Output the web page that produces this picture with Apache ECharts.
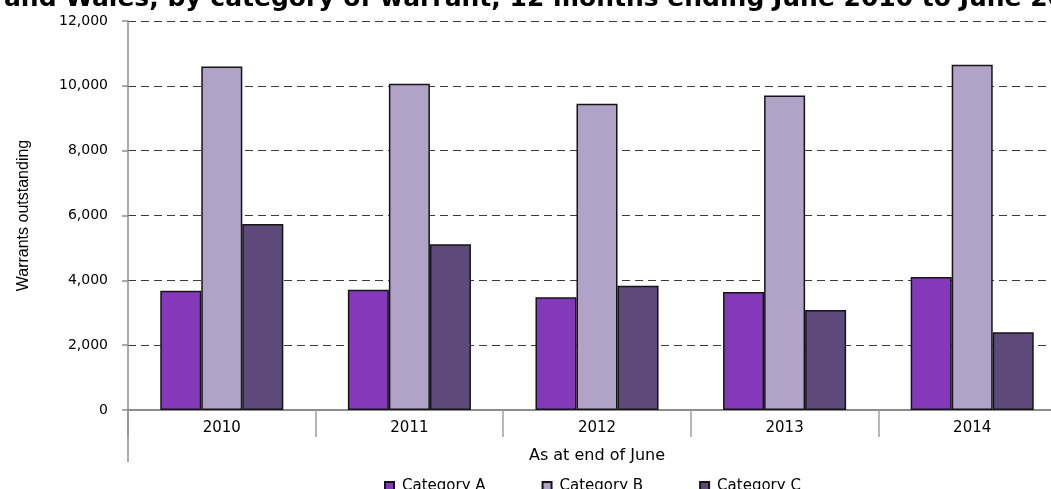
<!DOCTYPE html>
<html>
<head>
<meta charset="utf-8">
<script src="https://cdn.jsdelivr.net/npm/echarts@6/dist/echarts.min.js"></script>
<style>html,body{margin:0;padding:0;background:#fff;}#c{width:1051px;height:489px;}</style>
</head>
<body>
<div id="c"></div>
<script>
var categories = ['2010', '2011', '2012', '2013', '2014'];
var categoryA = [3680, 3710, 3475, 3640, 4100];
var categoryB = [10600, 10065, 9450, 9705, 10650];
var categoryC = [5740, 5110, 3835, 3085, 2395];
var seriesNames = ['Category A', 'Category B', 'Category C'];
var yTicks = { min: 0, max: 12000, interval: 2000 };

var chart = echarts.init(document.getElementById('c'), null, { renderer: 'canvas' });
var colors = ['#8438BA', '#B1A2C8', '#5E4A7A'];
function bar(name, data, color) {
  return {
    name: name, type: 'bar', data: data, xAxisIndex: 0,
    barGap: '0%', barCategoryGap: '34.4%',
    itemStyle: { color: color, borderColor: '#151515', borderWidth: 1.5 },
    emphasis: { disabled: true }
  };
}
chart.setOption({
  animation: false,
  color: colors,
  title: {
    text: 'and Wales, by category of warrant, 12 months ending June 2010 to June 2014',
    left: -1, top: -18,
    textStyle: { fontFamily: 'DejaVu Sans', fontWeight: 'bold', fontSize: 25, color: '#000' }
  },
  legend: {
    data: seriesNames, left: 379, top: 474, icon: 'rect',
    itemWidth: 9, itemHeight: 9, itemGap: 56,
    textStyle: { fontFamily: 'DejaVu Sans', fontSize: 15, color: '#000', padding: [0, 0, 0, 3] }
  },
  grid: { left: 128, top: 21, width: 938, height: 389, containLabel: false, outerBoundsMode: 'none' },
  xAxis: [{
    type: 'category', data: categories, position: 'bottom',
    axisLine: { lineStyle: { color: '#8c8c8c', width: 2 } },
    axisTick: { show: true, length: 27, alignWithLabel: false, lineStyle: { color: '#a0a0a0', width: 1.5 } },
    axisLabel: { margin: 11, fontFamily: 'DejaVu Sans', fontSize: 15, color: '#000' }
  }, {
    type: 'category', data: [''], position: 'bottom', gridIndex: 0,
    name: 'As at end of June', nameLocation: 'middle', nameGap: 38,
    nameTextStyle: { fontFamily: 'DejaVu Sans', fontSize: 16, color: '#000' },
    axisLine: { show: false },
    axisTick: { show: true, length: 52, alignWithLabel: false, lineStyle: { color: '#8c8c8c', width: 1.5 } },
    axisLabel: { show: false }, splitLine: { show: false }
  }],
  yAxis: {
    type: 'value', min: yTicks.min, max: yTicks.max, interval: yTicks.interval,
    name: 'Warrants outstanding', nameLocation: 'middle', nameGap: 96, nameRotate: 90,
    nameTextStyle: { fontFamily: 'Liberation Sans', fontSize: 16, color: '#000' },
    axisLine: { show: true, lineStyle: { color: '#8c8c8c', width: 1.5 } },
    axisTick: { show: true, length: 6, lineStyle: { color: '#8c8c8c', width: 1.5 } },
    axisLabel: {
      margin: 20, fontFamily: 'DejaVu Sans', fontSize: 14, color: '#000',
      formatter: function (v) { return v.toLocaleString('en-US'); }
    },
    splitLine: { show: true, lineStyle: { color: '#3a3a3a', width: 1, type: [8, 5] } }
  },
  series: [
    bar(seriesNames[0], categoryA, colors[0]),
    bar(seriesNames[1], categoryB, colors[1]),
    bar(seriesNames[2], categoryC, colors[2])
  ]
});
</script>
</body>
</html>
